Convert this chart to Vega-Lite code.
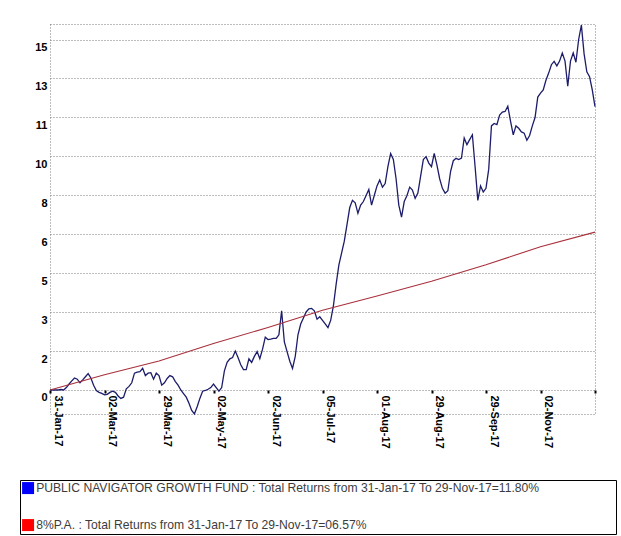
{
  "$schema": "https://vega.github.io/schema/vega-lite/v6.json",
  "autosize": {"type": "none"},
  "padding": {"left": 50, "top": 24, "right": 26, "bottom": 122},
  "width": 545,
  "height": 390,
  "background": "white",
  "config": {
    "font": "Liberation Sans",
    "view": {"stroke": "#7a7a7a", "strokeDash": [1, 2], "strokeWidth": 1}
  },
  "datasets": {
    "fund": [
      {"i":0,"v":0},{"i":1,"v":0},{"i":2,"v":0},{"i":3,"v":0},{"i":4,"v":0.02},{"i":5,"v":0},{"i":6,"v":0.1},{"i":7,"v":0.25},{"i":8,"v":0.38},{"i":9,"v":0.5},
      {"i":10,"v":0.45},{"i":11,"v":0.3},{"i":12,"v":0.42},{"i":13,"v":0.55},{"i":14,"v":0.68},{"i":15,"v":0.5},{"i":16,"v":0.2},{"i":17,"v":-0.02},{"i":18,"v":-0.1},{"i":19,"v":-0.14},
      {"i":20,"v":-0.2},{"i":21,"v":-0.18},{"i":22,"v":-0.1},{"i":23,"v":-0.05},{"i":24,"v":-0.1},{"i":25,"v":-0.25},{"i":26,"v":-0.35},{"i":27,"v":-0.3},{"i":28,"v":0.05},{"i":29,"v":0.15},
      {"i":30,"v":0.3},{"i":31,"v":0.7},{"i":32,"v":0.74},{"i":33,"v":0.76},{"i":34,"v":0.9},{"i":35,"v":0.6},{"i":36,"v":0.7},{"i":37,"v":0.72},{"i":38,"v":0.45},{"i":39,"v":0.7},
      {"i":40,"v":0.6},{"i":41,"v":0.2},{"i":42,"v":0.3},{"i":43,"v":0.48},{"i":44,"v":0.6},{"i":45,"v":0.55},{"i":46,"v":0.35},{"i":47,"v":0.2},{"i":48,"v":0},{"i":49,"v":-0.15},
      {"i":50,"v":-0.3},{"i":51,"v":-0.55},{"i":52,"v":-0.85},{"i":53,"v":-1.0},{"i":54,"v":-0.7},{"i":55,"v":-0.35},{"i":56,"v":-0.05},{"i":57,"v":-0.02},{"i":58,"v":0.03},{"i":59,"v":0.1},
      {"i":60,"v":0.25},{"i":61,"v":0.1},{"i":62,"v":-0.05},{"i":63,"v":0.1},{"i":64,"v":0.8},{"i":65,"v":1.15},{"i":66,"v":1.3},{"i":67,"v":1.35},{"i":68,"v":1.62},{"i":69,"v":1.35},
      {"i":70,"v":1.05},{"i":71,"v":0.85},{"i":72,"v":0.85},{"i":73,"v":1.3},{"i":74,"v":1.15},{"i":75,"v":1.4},{"i":76,"v":1.6},{"i":77,"v":1.3},{"i":78,"v":1.7},{"i":79,"v":2.2},
      {"i":80,"v":2.1},{"i":81,"v":2.12},{"i":82,"v":2.15},{"i":83,"v":2.15},{"i":84,"v":2.3},{"i":85,"v":3.3},{"i":86,"v":2.0},{"i":87,"v":1.6},{"i":88,"v":1.2},{"i":89,"v":0.9},
      {"i":90,"v":1.4},{"i":91,"v":2.3},{"i":92,"v":2.75},{"i":93,"v":3.0},{"i":94,"v":3.25},{"i":95,"v":3.38},{"i":96,"v":3.4},{"i":97,"v":3.3},{"i":98,"v":2.95},{"i":99,"v":3.05},
      {"i":100,"v":2.9},{"i":101,"v":2.75},{"i":102,"v":2.6},{"i":103,"v":2.9},{"i":104,"v":3.5},{"i":105,"v":4.4},{"i":106,"v":5.2},{"i":107,"v":5.7},{"i":108,"v":6.2},{"i":109,"v":6.9},
      {"i":110,"v":7.6},{"i":111,"v":7.9},{"i":112,"v":7.8},{"i":113,"v":7.36},{"i":114,"v":7.7},{"i":115,"v":7.85},{"i":116,"v":8.1},{"i":117,"v":8.35},{"i":118,"v":7.7},{"i":119,"v":8.1},
      {"i":120,"v":8.5},{"i":121,"v":8.75},{"i":122,"v":8.45},{"i":123,"v":8.6},{"i":124,"v":9.3},{"i":125,"v":9.85},{"i":126,"v":9.6},{"i":127,"v":8.8},{"i":128,"v":7.7},{"i":129,"v":7.2},
      {"i":130,"v":7.85},{"i":131,"v":8.1},{"i":132,"v":8.45},{"i":133,"v":8.33},{"i":134,"v":7.98},{"i":135,"v":8.2},{"i":136,"v":8.9},{"i":137,"v":9.6},{"i":138,"v":9.72},{"i":139,"v":9.45},
      {"i":140,"v":9.3},{"i":141,"v":9.86},{"i":142,"v":9.37},{"i":143,"v":8.8},{"i":144,"v":8.4},{"i":145,"v":8.2},{"i":146,"v":8.3},{"i":147,"v":9.1},{"i":148,"v":9.55},{"i":149,"v":9.65},
      {"i":150,"v":9.6},{"i":151,"v":9.66},{"i":152,"v":10.5},{"i":153,"v":10.22},{"i":154,"v":10.43},{"i":155,"v":10.63},{"i":156,"v":9.3},{"i":157,"v":7.9},{"i":158,"v":8.5},{"i":159,"v":8.25},
      {"i":160,"v":8.4},{"i":161,"v":9.2},{"i":162,"v":11.0},{"i":163,"v":11.1},{"i":164,"v":11.05},{"i":165,"v":11.45},{"i":166,"v":11.58},{"i":167,"v":11.6},{"i":168,"v":11.82},{"i":169,"v":11.2},
      {"i":170,"v":10.63},{"i":171,"v":11.0},{"i":172,"v":10.9},{"i":173,"v":10.75},{"i":174,"v":10.7},{"i":175,"v":10.4},{"i":176,"v":10.6},{"i":177,"v":11.0},{"i":178,"v":11.35},{"i":179,"v":12.2},
      {"i":180,"v":12.37},{"i":181,"v":12.5},{"i":182,"v":12.9},{"i":183,"v":13.2},{"i":184,"v":13.55},{"i":185,"v":13.69},{"i":186,"v":13.5},{"i":187,"v":13.7},{"i":188,"v":14.04},{"i":189,"v":13.7},
      {"i":190,"v":12.65},{"i":191,"v":13.7},{"i":192,"v":14.04},{"i":193,"v":13.65},{"i":194,"v":14.6},{"i":195,"v":15.2},{"i":196,"v":14.0},{"i":197,"v":13.25},{"i":198,"v":13.05},{"i":199,"v":12.5},
      {"i":200,"v":11.8}
    ],
    "bench": [
      {"i":0,"v":0},{"i":20,"v":0.635},{"i":40,"v":1.209},{"i":60,"v":1.937},{"i":80,"v":2.606},{"i":100,"v":3.322},
      {"i":120,"v":3.912},{"i":140,"v":4.527},{"i":160,"v":5.213},{"i":180,"v":5.970},{"i":200,"v":6.575}
    ]
  },
  "layer": [
    {
      "data": {"name": "fund"},
      "mark": {"type": "line", "strokeWidth": 1.3, "clip": false},
      "encoding": {
        "x": {
          "field": "i", "type": "quantitative",
          "scale": {"domain": [0, 200], "nice": false, "zero": false},
          "axis": {
            "title": null, "orient": "bottom", "offset": -24,
            "values": [0, 20, 40, 60, 80, 100, 120, 140, 160, 180, 200],
            "labelExpr": "['31-Jan-17','02-Mar-17','29-Mar-17','02-May-17','02-Jun-17','05-Jul-17','01-Aug-17','29-Aug-17','29-Sep-17','02-Nov-17',''][round(datum.value/20)]",
            "labelAngle": 90, "labelAlign": "left", "labelBaseline": "bottom", "labelOffset": 2,
            "labelFont": "Liberation Sans", "labelFontWeight": "bold", "labelFontSize": 11, "labelColor": "#000000",
            "labelPadding": 2, "labelOverlap": false, "labelFlush": false, "labelBound": false,
            "ticks": true, "tickSize": 3, "tickWidth": 2, "tickColor": "#000000",
            "domain": false, "grid": false
          }
        },
        "y": {
          "field": "v", "type": "quantitative",
          "scale": {"domain": [-1.0, 15.245], "nice": false, "zero": false},
          "axis": {
            "title": null,
            "values": [0, 1.622, 3.244, 4.866, 6.488, 8.11, 9.732, 11.354, 12.976, 14.598],
            "labelExpr": "format(round(datum.value), 'd')",
            "labelFont": "Liberation Sans", "labelFontWeight": "bold", "labelFontSize": 11, "labelColor": "#000000",
            "labelBaseline": "top", "labelOffset": 2, "labelPadding": 3, "labelOverlap": false,
            "ticks": false, "domain": false,
            "grid": true, "gridColor": "#7a7a7a", "gridDash": [1, 2], "gridWidth": 1
          }
        },
        "color": {
          "datum": "PUBLIC NAVIGATOR GROWTH FUND : Total Returns from 31-Jan-17 To 29-Nov-17=11.80%",
          "type": "nominal",
          "scale": {
            "domain": [
              "PUBLIC NAVIGATOR GROWTH FUND : Total Returns from 31-Jan-17 To 29-Nov-17=11.80%",
              "8%P.A. : Total Returns from 31-Jan-17 To 29-Nov-17=06.57%"
            ],
            "range": ["#1c1c6a", "#a8303c"]
          },
          "legend": {
            "title": null, "orient": "none", "legendX": -30, "legendY": 456,
            "direction": "vertical",
            "symbolType": "square", "symbolSize": 144, "symbolStrokeWidth": 0,
            "labelFont": "Liberation Sans", "labelFontSize": 12.15, "labelColor": "#3c3c3c",
            "labelLimit": 0, "labelOffset": 2,
            "labelExpr": "indexof(datum.label, 'PUBLIC') == 0 ? datum.label + '\u00a0\u00a0\u00a0\u00a0\u00a0\u00a0\u00a0\u00a0\u00a0\u00a0\u00a0\u00a0\u00a0\u00a0\u00a0\u00a0\u00a0\u00a0\u00a0\u00a0\u00a0\u00a0\u200b' : datum.label",
            "rowPadding": 24, "padding": 2,
            "strokeColor": "#000000",
            "encoding": {
              "symbols": {
                "fill": {"value": {"expr": "indexof(datum.value, '8%') == 0 ? '#ff0000' : '#0000ff'"}},
                "stroke": {"value": "transparent"},
                "opacity": {"value": 1}
              }
            }
          }
        }
      }
    },
    {
      "data": {"name": "bench"},
      "mark": {"type": "line", "strokeWidth": 1.1},
      "encoding": {
        "x": {"field": "i", "type": "quantitative"},
        "y": {"field": "v", "type": "quantitative"},
        "color": {"datum": "8%P.A. : Total Returns from 31-Jan-17 To 29-Nov-17=06.57%", "type": "nominal"}
      }
    }
  ]
}
